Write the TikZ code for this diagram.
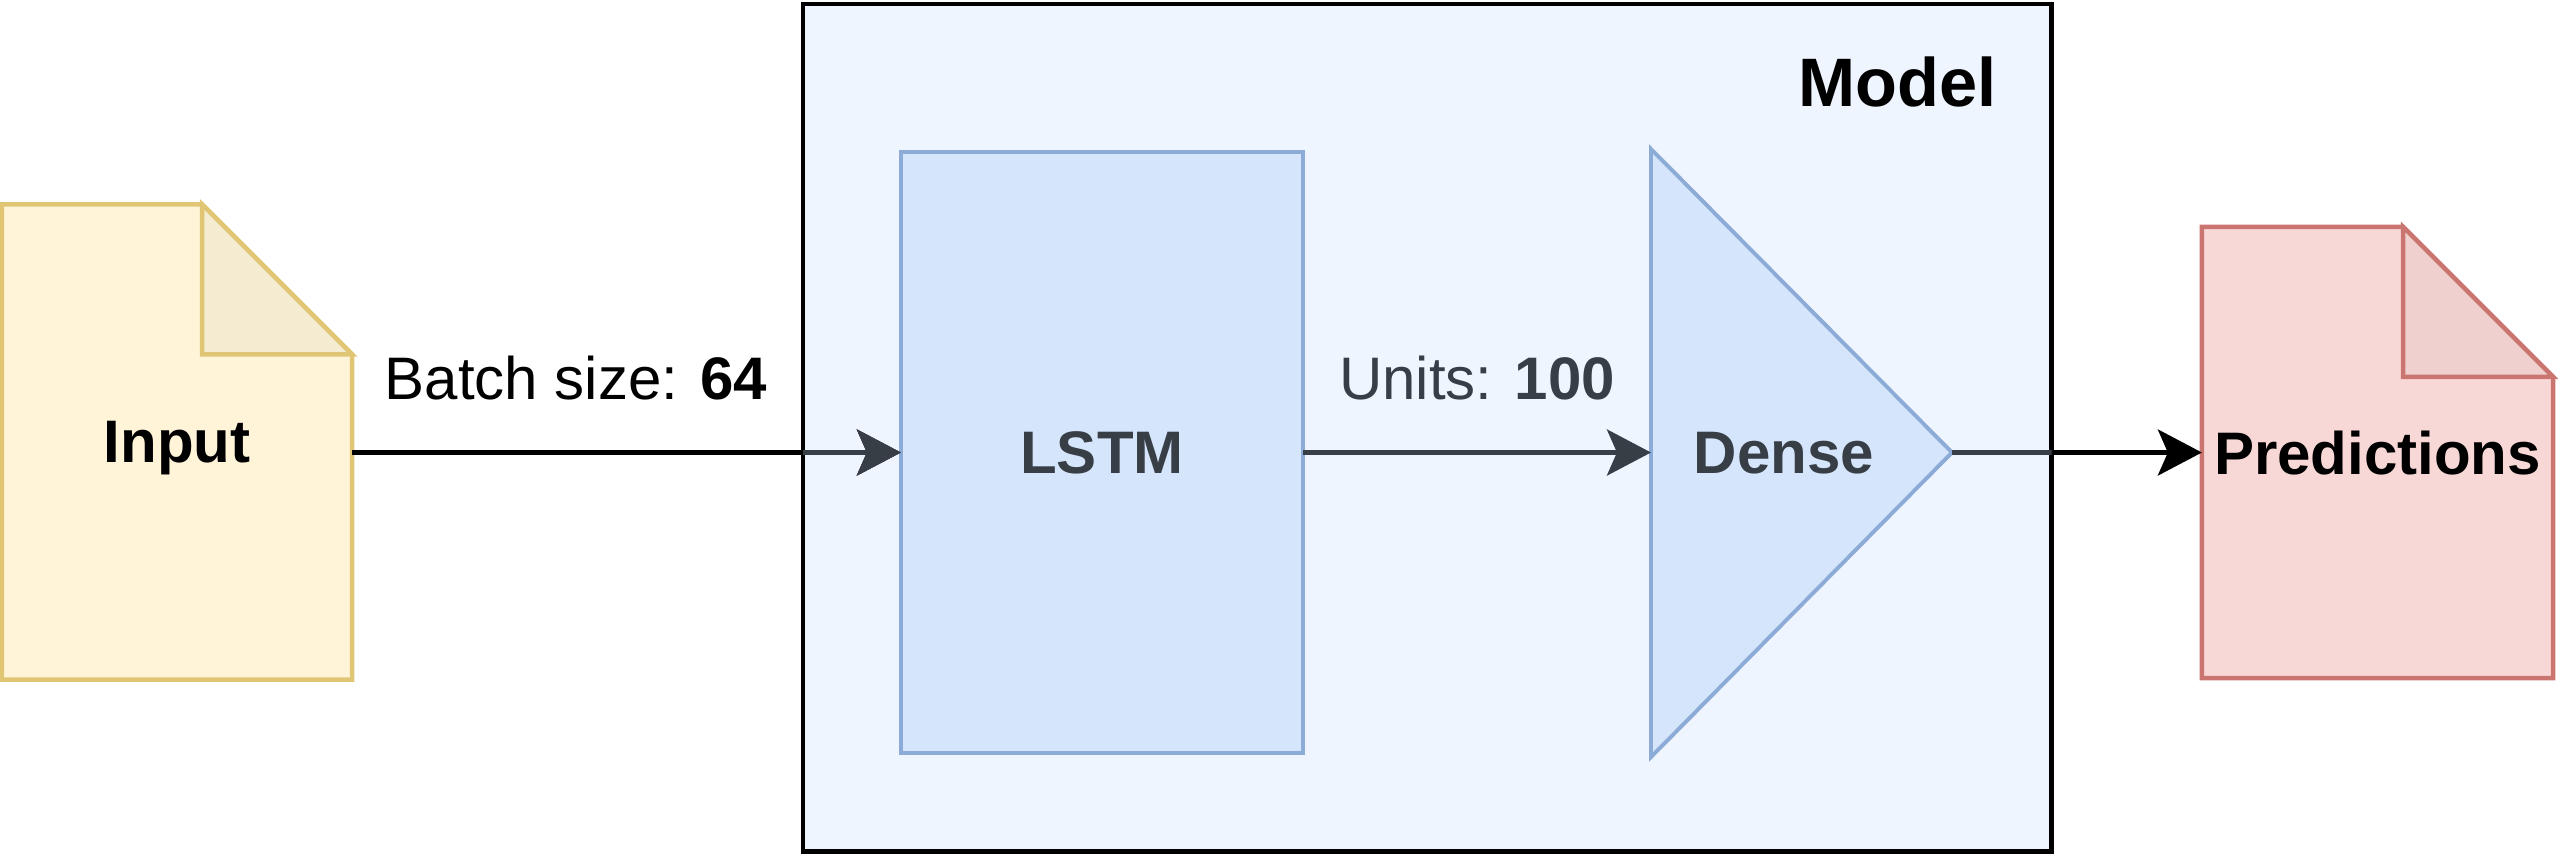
\documentclass[tikz,border=0pt]{standalone}
\usepackage{fontspec}
\setmainfont{Liberation Sans}
\usetikzlibrary{arrows.meta,calc}
\definecolor{modelfill}{HTML}{EEF5FE}
\definecolor{lstmfill}{HTML}{D5E5FB}
\definecolor{lstmdraw}{HTML}{8CABD6}
\definecolor{innergray}{HTML}{383E45}
\definecolor{inputfill}{HTML}{FFF4D8}
\definecolor{inputdraw}{HTML}{E0C674}
\definecolor{inputfold}{HTML}{F4EBD0}
\definecolor{predfill}{HTML}{F8D8D7}
\definecolor{preddraw}{HTML}{CB7571}
\definecolor{predfold}{HTML}{F0D0CF}
\pgfdeclarelayer{bg}
\pgfsetlayers{bg,main}
\newcommand\docshape[4]{%
  \draw[line width=1.25pt, draw=#2, fill=#3, line join=miter]
    (#1.north west) -- ($(#1.north east)+(-150,0)$) -- ($(#1.north east)+(0,150)$)
    -- (#1.south east) -- (#1.south west) -- cycle;
  \draw[line width=1.25pt, draw=#2, fill=#4, line join=miter]
    ($(#1.north east)+(-150,0)$) -- ($(#1.north east)+(-150,150)$)
    -- ($(#1.north east)+(0,150)$) -- cycle;}
\begin{document}
\begin{tikzpicture}[x=0.01cm, y=-0.01cm,
  lbl/.style={font=\fontsize{17.07pt}{20pt}\selectfont},
  bold/.style={font=\fontsize{17.07pt}{20pt}\selectfont\bfseries, text depth=0pt},
  ghost/.style={inner sep=0pt, outer sep=0pt},
  conn/.style={line width=1.3pt, -{Stealth[length=0.44cm, width=0.46cm, inset=0.1cm]}},
  lstmbox/.style={draw=lstmdraw, fill=lstmfill, line width=1.1pt, inner sep=0pt, outer sep=0pt,
    minimum width=4.02cm, minimum height=6.01cm, text=innergray}]
\useasboundingbox (0,0) rectangle (2560,860);

% nodes
\node[ghost, minimum width=12.48cm, minimum height=8.47cm, anchor=north west] (model) at (803,4) {};
\node[ghost, minimum width=3.50cm, minimum height=4.75cm, bold] (input) at (177,442) {Input};
\node[lstmbox, bold] (lstm) at (1102,452.5) {LSTM};
\coordinate (denseW) at (1651,452.5);
\coordinate (denseE) at (1952,452.5);
\coordinate (denseT) at (1651,149);
\coordinate (denseB) at (1651,757);
\node[ghost, bold, text=innergray] (dense) at (1784,453) {Dense};
\node[ghost, minimum width=3.51cm, minimum height=4.51cm, bold] (pred) at (2377.5,452.5) {Predictions};
\node[anchor=base east, inner sep=0pt, font=\fontsize{19.5pt}{22pt}\selectfont\bfseries] (title) at (1997,106) {Model};

\begin{pgfonlayer}{bg}
  \draw[line width=1.3pt, fill=modelfill] (model.north west) rectangle (model.south east);
  \docshape{input}{inputdraw}{inputfill}{inputfold}
  \docshape{pred}{preddraw}{predfill}{predfold}
  \draw[draw=lstmdraw, fill=lstmfill, line width=1.1pt, line join=miter]
    (denseT) -- (denseE) -- (denseB) -- cycle;
\end{pgfonlayer}

% connectors
\draw[conn] (input.east |- lstm.west) -- (lstm.west)
  node[lbl, pos=0.408, anchor=base, yshift=0.53cm, text=black] {Batch size: \textbf{64}};
\draw[conn, innergray] (lstm.east) -- (denseW)
  node[lbl, midway, anchor=base, yshift=0.53cm] {Units: \textbf{100}};
\draw[conn] (denseE) -- (pred.west);
\begin{scope}
  \clip (model.north west) rectangle (model.south east);
  \draw[conn, innergray] (input.east |- lstm.west) -- (lstm.west);
  \draw[line width=1.3pt, innergray] (denseE) -- (pred.west);
\end{scope}
\end{tikzpicture}
\end{document}
